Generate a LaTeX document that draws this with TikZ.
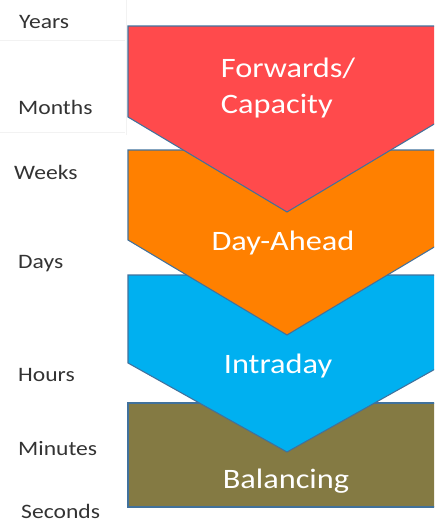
\documentclass[tikz,border=0pt]{standalone}
\usepackage{fontspec}
\setmainfont{Carlito}
\newfontfamily\widefont[FakeStretch=1.15]{Carlito}
\usepackage{tikz}
\usetikzlibrary{positioning}
\definecolor{fwdred}{HTML}{FF4A4C}
\definecolor{daorange}{HTML}{FF8000}
\definecolor{idblue}{HTML}{00B0F0}
\definecolor{balolive}{HTML}{847A43}
\definecolor{edge}{HTML}{41719C}
\tikzset{chevron/.style={draw=edge,line width=.9pt,line join=miter}, gridline/.style={draw=black!5,line width=.6pt}, stagetext/.style={anchor=base,text=white,align=center,inner sep=0pt,font=\widefont\fontsize{24}{30}\selectfont}, timetext/.style={anchor=base west,text=black!80,inner sep=0pt,font=\widefont\fontsize{17.5}{20}\selectfont}}

\begin{document}
\begin{tikzpicture}[x=.03cm,y=-.03cm]
\useasboundingbox (0,0) rectangle (434,522);
\clip (0,0) rectangle (434,522);
% faint rules of the time column
\draw[gridline] (0,40) -- (125,40) (0,132) -- (125,132) (126,0) -- (126,135);
% balancing block
\draw[chevron,fill=balolive] (128,403) rectangle (446,507);
% chevrons, lowest first so that each tip lies over the next block
\foreach \ytop/\yside/\ytip/\col in {275/363/452/idblue,150/240/335/daorange,26/117/212/fwdred}{
 \draw[chevron,fill=\col] (128,\ytop) -- (446,\ytop) -- (446,\yside) -- (287,\ytip) -- (128,\yside) -- cycle;
}
% market stages (base of a two-line node is its last line)
\node[stagetext,align=left] (forwards) at (288,113) {Forwards/\\Capacity};
\node[stagetext] (dayahead) at (283,250) {Day-Ahead};
\node[stagetext] (intraday) at (278,373) {Intraday};
\node[stagetext] (balancing) at (286,488) {Balancing};
% time scale
\node[timetext] (years) at (19,28) {Years};
\node[timetext] (months) at (18,114) {Months};
\node[timetext] (weeks) at (14,179) {Weeks};
\node[timetext] (days) at (18,268) {Days};
\node[timetext] (hours) at (18,381) {Hours};
\node[timetext] (minutes) at (18,455) {Minutes};
\node[timetext] (seconds) at (21,518) {Seconds};
\end{tikzpicture}
\end{document}
